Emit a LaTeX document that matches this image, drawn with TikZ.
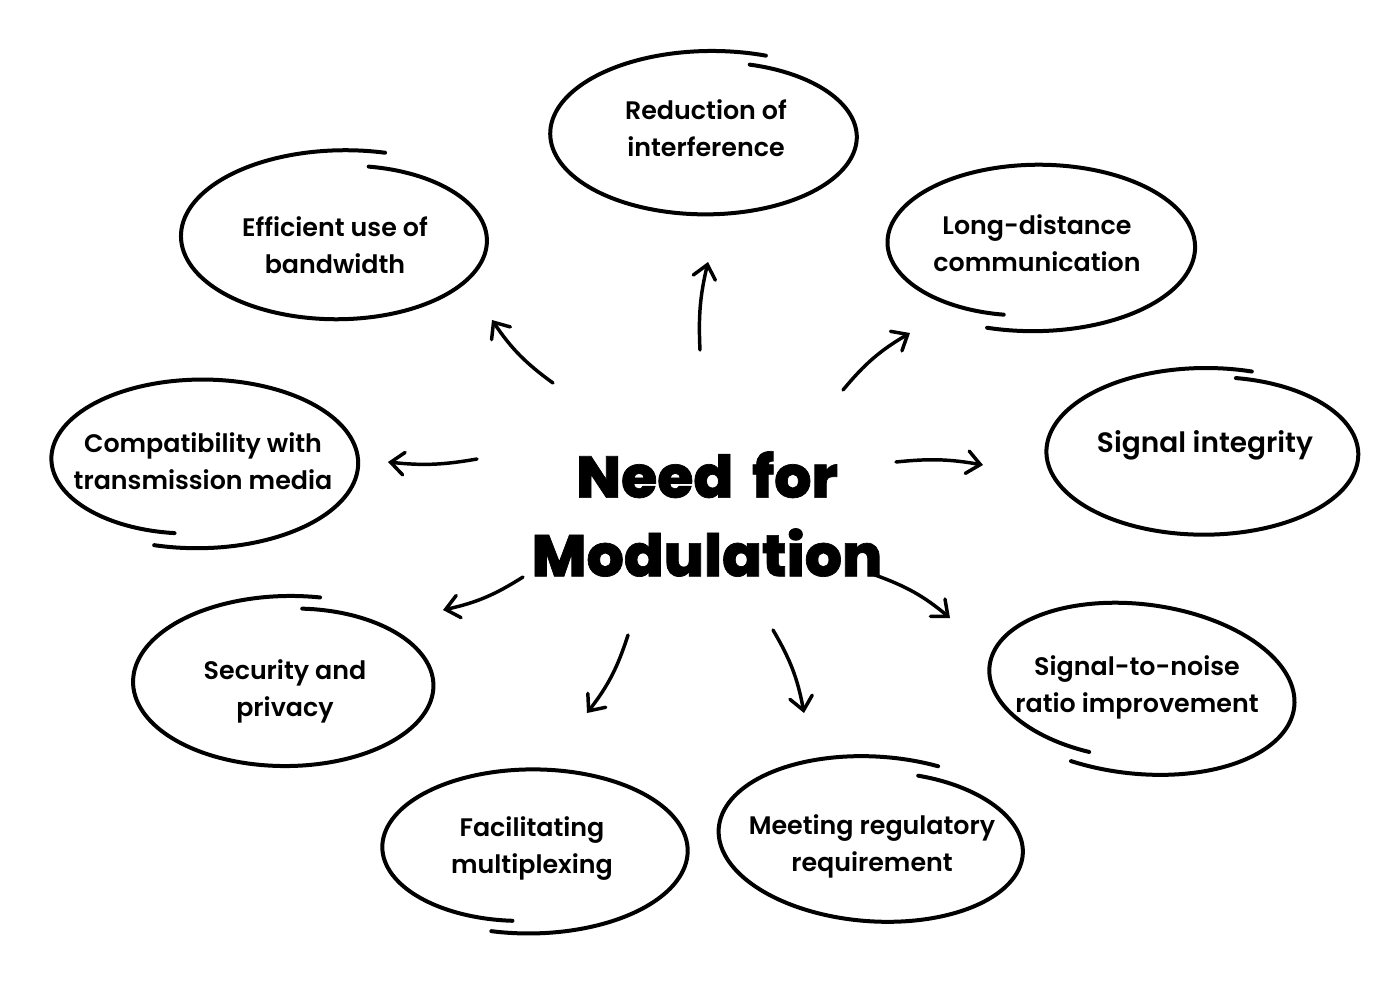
\documentclass[tikz,border=0pt]{standalone}
\usepackage{fontspec}
\newfontfamily\labfont{Poppins SemiBold}
\newfontfamily\heavyfont{Poppins ExtraBold}[FakeBold=1.2,WordSpace=1.7]
\usetikzlibrary{arrows.meta}
\newcommand\handell[9]{%
  \draw[ellstroke] plot[domain=0:1,samples=140,smooth,variable=\s]
  ({(#1) + (1+((#8)-1)*(1-\s)^3+((#9)-1)*\s^3)*((#3)*cos((#6)+((#7)-(#6))*\s)*cos(#5) - (#4)*sin((#6)+((#7)-(#6))*\s)*sin(#5))},
   {(#2) + (1+((#8)-1)*(1-\s)^3+((#9)-1)*\s^3)*((#3)*cos((#6)+((#7)-(#6))*\s)*sin(#5) + (#4)*sin((#6)+((#7)-(#6))*\s)*cos(#5))});
}
\tikzset{
  lab/.style={font=\labfont\fontsize{19}{27.75}\selectfont, align=center, inner sep=0pt},
  hub/.style={font=\heavyfont\fontsize{44}{59}\selectfont, align=center, inner sep=0pt},
  ellstroke/.style={line width=3pt, line cap=round, line join=round},
  arr/.style={line width=2.6pt, line cap=round, -{Straight Barb[length=10pt,width=17pt,line cap=round]}},
}
\begin{document}
\begin{tikzpicture}[x=0.75pt,y=-0.75pt]
\useasboundingbox (0,0) rectangle (1400,1000);
\fill[white] (0,0) rectangle (1400,1000);

% centre
\node[hub] (hub) at (707,514) {Need for\\Modulation};

% labels
\node[lab] (red) at (706,128) {Reduction of\\interference};
\node[lab] (eff) at (335,245) {Efficient use of\\bandwidth};
\node[lab] (lng) at (1037,243) {Long-distance\\communication};
\node[lab] (cmp) at (203,461) {Compatibility with\\transmission media};
\node[lab,font=\labfont\fontsize{21}{28}\selectfont] (sig) at (1205,445) {Signal integrity};
\node[lab] (sec) at (285,691) {Security and\\privacy};
\node[lab] (snr) at (1137,687) {Signal-to-noise\\ratio improvement};
\node[lab] (fac) at (532,849) {Facilitating\\multiplexing};
\node[lab] (mee) at (872,846) {Meeting regulatory\\requirement};

% hand-drawn ellipses
\handell{708}{135}{155}{80}{0}{287}{651}{0.92}{1.06}
\handell{340}{238}{155}{82}{0}{282}{646}{0.89}{1.08}
\handell{1035}{246}{159}{83}{0}{107}{-257}{1.03}{0.85}
\handell{199}{462}{158}{84}{0}{106}{-260}{1.03}{0.86}
\handell{1206}{452}{160}{84}{0}{282}{647}{0.9}{1.0}
\handell{288}{683}{153}{84}{0}{276}{642}{0.89}{1.04}
\handell{530}{850}{157}{82}{0}{104}{-263}{1.02}{0.87}
\handell{877}{840}{160}{84}{4}{286}{651}{0.83}{0.99}
\handell{1136}{687}{159}{85}{7}{110}{-254}{1.02}{0.86}

% arrow endpoints
\coordinate (a1s) at (553,383); \coordinate (a1e) at (492,320);
\coordinate (a2s) at (700,350); \coordinate (a2e) at (708,262);
\coordinate (a3s) at (843,390); \coordinate (a3e) at (910,333);
\coordinate (a4s) at (477,459); \coordinate (a4e) at (388,462);
\coordinate (a5s) at (896,462); \coordinate (a5e) at (983,465);
\coordinate (a6s) at (523,577); \coordinate (a6e) at (443,610);
\coordinate (a7s) at (628,635); \coordinate (a7e) at (587,713);
\coordinate (a8s) at (773,630); \coordinate (a8e) at (804,713);
\coordinate (a9s) at (875,575); \coordinate (a9e) at (950,618);

\draw[arr] (a1s) to[bend left=10] (a1e);
\draw[arr] (a2s) to[bend left=8] (a2e);
\draw[arr] (a3s) to[bend left=10] (a3e);
\draw[arr] (a4s) to[bend left=8] (a4e);
\draw[arr] (a5s) to[bend left=8] (a5e);
\draw[arr] (a6s) to[bend left=10] (a6e);
\draw[arr] (a7s) to[bend left=10] (a7e);
\draw[arr] (a8s) to[bend left=10] (a8e);
\draw[arr] (a9s) to[bend left=10] (a9e);
\end{tikzpicture}
\end{document}
